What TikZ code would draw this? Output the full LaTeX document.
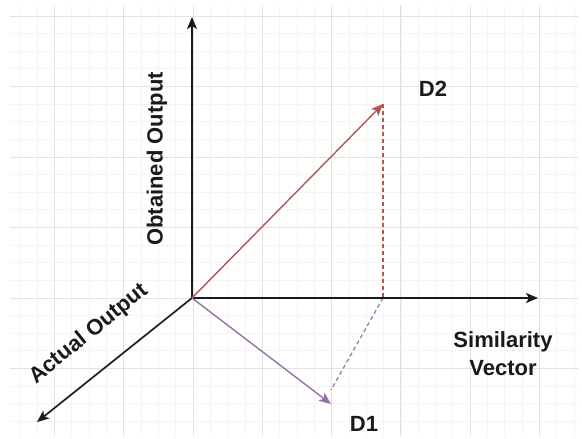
\documentclass[tikz,border=0pt]{standalone}
\usepackage{fontspec}
\setmainfont{Liberation Sans}
\usetikzlibrary{arrows.meta}
\definecolor{gridmaj}{HTML}{E2E2E2}
\definecolor{gridmin}{HTML}{F4F4F4}
\definecolor{redv}{HTML}{B85450}
\definecolor{purv}{HTML}{9673A6}
\definecolor{ink}{HTML}{1A1A1A}
\begin{document}
\begin{tikzpicture}[x=1pt,y=-1pt,
  tip/.style={-{Stealth[length=12pt,width=10pt,inset=3pt]}},
  axis/.style={tip,line width=1.7pt,draw=ink},
  vec/.style={tip,line width=1.4pt},
  proj/.style={line width=1.2pt,dash pattern=on 4pt off 3pt},
  lbl/.style={inner sep=0pt,text=ink,font=\fontsize{22}{28}\selectfont\bfseries},
  minorg/.style={draw=gridmin,line width=0.8pt},
  majorg/.style={draw=gridmaj,line width=1pt}]
\useasboundingbox (0,0) rectangle (582,439);
\fill[white] (0,0) rectangle (582,439);
% grid
\foreach \k in {-10,...,22}{\pgfmathsetmacro\xx{193+17.325*\k}\draw[minorg] (\xx,5) -- (\xx,436);}
\foreach \k in {-7,...,16}{\pgfmathsetmacro\yy{298-17.625*\k}\draw[minorg] (10,\yy) -- (578,\yy);}
\foreach \k in {-2,...,5}{\pgfmathsetmacro\xx{193+69.3*\k}\draw[majorg] (\xx,5) -- (\xx,436);}
\foreach \k in {-1,...,4}{\pgfmathsetmacro\yy{298-70.5*\k}\draw[majorg] (10,\yy) -- (578,\yy);}
% points
\coordinate (O) at (192,298);
\coordinate (ytop) at (192,17);
\coordinate (xend) at (538,298);
\coordinate (zend) at (37,422);
\coordinate (d2) at (383,104);
\coordinate (d1) at (331,404);
\coordinate (foot) at (383,298);
\coordinate (d1top) at (331,390);
% projections
\draw[proj,draw=redv] (d2) -- (foot);
\draw[proj,draw=purv] (foot) -- (d1top);
% axes
\draw[axis] (O) -- (ytop);
\draw[axis] (O) -- (xend);
\draw[axis] (O) -- (zend);
% vectors
\draw[vec,draw=redv] (O) -- (d2);
\draw[vec,draw=purv] (O) -- (d1);
% labels
\node[lbl,rotate=90] (lobt) at (157,159) {Obtained Output};
\node[lbl,rotate=39] (lact) at (89,334) {Actual Output};
\node[lbl,align=center] (lsim) at (503,354) {Similarity\\Vector};
\node[lbl] (ld2) at (433,89) {D2};
\node[lbl] (ld1) at (364,424) {D1};
\end{tikzpicture}
\end{document}
